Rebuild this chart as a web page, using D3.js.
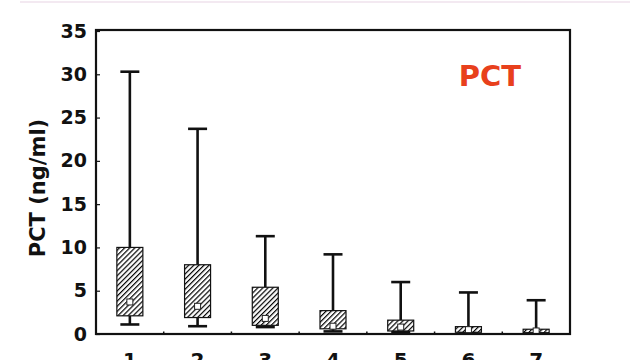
<!DOCTYPE html>
<html>
<head>
<meta charset="utf-8">
<script src="https://cdn.jsdelivr.net/npm/d3@7"></script>
<style>
  html, body { margin: 0; padding: 0; background: #fff; }
  svg { display: block; }
</style>
</head>
<body>
<svg id="chart" width="640" height="360"></svg>
<script>
// ---- data ----
const categories  = ["1", "2", "3", "4", "5", "6", "7"];
const whiskerHigh = [30.3, 23.7, 11.3, 9.2, 6.0, 4.8, 3.9];
const q3          = [10.0, 8.0, 5.4, 2.7, 1.6, 0.85, 0.55];
const medianMark  = [3.7, 3.2, 1.8, 0.9, 0.8, 0.5, 0.35];
const q1          = [2.1, 1.9, 1.0, 0.6, 0.35, 0.2, 0.15];
const whiskerLow  = [1.1, 0.9, 0.8, 0.3, 0.2, 0.1, 0.05];
const yTicks      = [0, 5, 10, 15, 20, 25, 30, 35];

const rows = categories.map((c, i) => ({
  cat: c, hi: whiskerHigh[i], q3: q3[i], med: medianMark[i], q1: q1[i], lo: whiskerLow[i]
}));

const svg = d3.select("#chart");
const font = "'DejaVu Sans', sans-serif";

// faint top line of the original slide
svg.append("line").attr("x1", 20).attr("x2", 630).attr("y1", 2).attr("y2", 2)
  .attr("stroke", "#f3e9f1").attr("stroke-width", 2);

const mLeft = 96, mRight = 570, mTop = 31, mBottom = 334;

const x = d3.scaleBand().domain(categories).range([mLeft, mRight]).padding(0);
const y = d3.scaleLinear().domain([0, 35]).range([mBottom, mTop]);

// hatch pattern
const defs = svg.append("defs");
const pat = defs.append("pattern")
  .attr("id", "hatch").attr("patternUnits", "userSpaceOnUse")
  .attr("width", 3.6).attr("height", 3.6)
  .attr("patternTransform", "rotate(45)");
pat.append("rect").attr("width", 3.6).attr("height", 3.6).attr("fill", "#fff");
pat.append("line").attr("x1", 0).attr("y1", 0).attr("x2", 0).attr("y2", 3.6)
  .attr("stroke", "#000").attr("stroke-width", 2.4);

// y axis (ticks inward)
const yAxis = d3.axisLeft(y).tickValues(yTicks).tickSize(-4).tickPadding(9);
const gy = svg.append("g").attr("transform", `translate(${mLeft},0)`).call(yAxis);
gy.select(".domain").remove();
gy.selectAll(".tick line").attr("stroke", "#111").attr("stroke-width", 1.2);
gy.selectAll(".tick text").attr("font-family", font).attr("font-weight", "bold")
  .attr("font-size", 19).attr("fill", "#111");

// x axis (labels centred on bands, small inward ticks at band edges)
const xAxis = d3.axisBottom(x).tickSize(0).tickPadding(0);
const gx = svg.append("g").attr("transform", `translate(0,${mBottom})`).call(xAxis);
gx.select(".domain").remove();
gx.selectAll(".tick text").attr("font-family", font).attr("font-weight", "bold")
  .attr("font-size", 20).attr("fill", "#111").attr("dy", null).attr("y", 33);

svg.append("g").selectAll("line")
  .data(categories.slice(1))
  .join("line")
  .attr("x1", d => x(d)).attr("x2", d => x(d))
  .attr("y1", mBottom).attr("y2", mBottom - 2.5)
  .attr("stroke", "#111").attr("stroke-width", 1.5);

// boxes
const bw = 26, cap = 19;
const g = svg.append("g");
rows.forEach(d => {
  const cx = x(d.cat) + x.bandwidth() / 2;
  // upper whisker
  g.append("line").attr("x1", cx).attr("x2", cx).attr("y1", y(d.q3)).attr("y2", y(d.hi))
    .attr("stroke", "#111").attr("stroke-width", 2.6);
  g.append("line").attr("x1", cx - cap / 2).attr("x2", cx + cap / 2).attr("y1", y(d.hi)).attr("y2", y(d.hi))
    .attr("stroke", "#111").attr("stroke-width", 2.6);
  // lower whisker
  g.append("line").attr("x1", cx).attr("x2", cx).attr("y1", y(d.q1)).attr("y2", y(d.lo))
    .attr("stroke", "#111").attr("stroke-width", 2.6);
  g.append("line").attr("x1", cx - cap / 2).attr("x2", cx + cap / 2).attr("y1", y(d.lo)).attr("y2", y(d.lo))
    .attr("stroke", "#111").attr("stroke-width", 2.6);
  // box
  g.append("rect").attr("x", cx - bw / 2).attr("width", bw)
    .attr("y", y(d.q3)).attr("height", y(d.q1) - y(d.q3))
    .attr("fill", "url(#hatch)").attr("stroke", "#111").attr("stroke-width", 1.2);
  // median marker
  g.append("rect").attr("x", cx - 3).attr("y", y(d.med) - 3).attr("width", 6).attr("height", 6)
    .attr("fill", "#fff").attr("stroke", "#222").attr("stroke-width", 1);
});

// frame
svg.append("rect").attr("x", mLeft).attr("y", mTop - 1).attr("width", mRight - mLeft).attr("height", mBottom - mTop + 1)
  .attr("fill", "none").attr("stroke", "#111").attr("stroke-width", 2.2);

// y title
svg.append("text")
  .attr("transform", `translate(45,188) rotate(-90)`)
  .attr("text-anchor", "middle")
  .attr("font-family", font).attr("font-weight", "bold").attr("font-size", 21)
  .attr("fill", "#111")
  .text("PCT (ng/ml)");

// panel label
svg.append("text")
  .attr("x", 490).attr("y", 86)
  .attr("text-anchor", "middle")
  .attr("font-family", font).attr("font-weight", "bold").attr("font-size", 29)
  .attr("fill", "#e8401c")
  .text("PCT");
</script>
</body>
</html>
